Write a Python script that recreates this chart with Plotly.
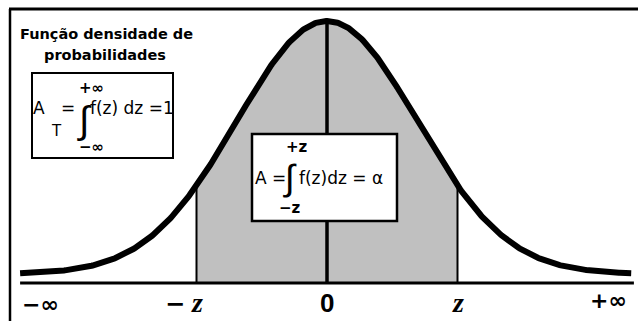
import numpy as np
import plotly.graph_objects as go

# ---- data -------------------------------------------------------------
# standard normal density f(z), drawn over the visible span of z
z_span = [-3.41, 3.38]
z_crit = 1.45                      # limits of the shaded area, -z .. +z
curve_lift = 0.0142                # the drawn curve sits slightly above the axis
axis_labels = ["−∞", "0", "+∞"]
axis_label_pos = [-3.18, 0.0, 3.13]

def density(z):
    z = np.asarray(z, dtype=float)
    return np.exp(-z ** 2 / 2) / np.sqrt(2 * np.pi)

z = np.linspace(z_span[0], z_span[1], 600)
fz = density(z) + curve_lift

z_in = np.linspace(-z_crit, z_crit, 300)
fz_in = density(z_in) + curve_lift

# ---- figure -----------------------------------------------------------
W, H = 638, 321
fig = go.Figure()

# shaded area between -z and +z
fig.add_trace(go.Scatter(
    x=np.concatenate([[-z_crit], z_in, [z_crit]]),
    y=np.concatenate([[0], fz_in, [0]]),
    fill="toself", fillcolor="#c0c0c0", mode="none", hoverinfo="skip"))

# verticals at -z, +z and the centre
for xv, wv in [(-z_crit, 2), (z_crit, 2)]:
    fig.add_trace(go.Scatter(x=[xv, xv], y=[0, density(xv) + curve_lift],
                             mode="lines", line=dict(color="black", width=wv),
                             hoverinfo="skip"))
fig.add_trace(go.Scatter(x=[0, 0], y=[0, density(0) + curve_lift],
                         mode="lines", line=dict(color="black", width=3.5),
                         hoverinfo="skip"))

# horizontal axis
fig.add_trace(go.Scatter(x=[-3.41, 3.41], y=[0, 0], mode="lines",
                         line=dict(color="black", width=3), hoverinfo="skip"))

# density curve
fig.add_trace(go.Scatter(x=z, y=fz, mode="lines",
                         line=dict(color="black", width=6), hoverinfo="skip"))

def px(x):
    return x / W

def py(y):
    return 1 - y / H

shapes = [
    # frame edges
    dict(type="line", xref="paper", yref="paper", x0=px(10), x1=px(10),
         y0=py(9), y1=py(H + 2), line=dict(color="black", width=2.5)),
    dict(type="line", xref="paper", yref="paper", x0=px(9), x1=px(W + 2),
         y0=py(9), y1=py(9), line=dict(color="black", width=3)),
    # formula boxes
    dict(type="rect", xref="paper", yref="paper", x0=px(32), x1=px(173),
         y0=py(73), y1=py(158), fillcolor="white",
         line=dict(color="black", width=2), layer="above"),
    dict(type="rect", xref="paper", yref="paper", x0=px(252), x1=px(397),
         y0=py(134), y1=py(221), fillcolor="white",
         line=dict(color="black", width=2.5), layer="above"),
]

SANS = "DejaVu Sans"
anns = []

def txt(s, x, y, size, family=SANS, weight="normal", style="normal",
        xanchor="center", xref="paper"):
    anns.append(dict(text=s, x=x if xref == "x" else px(x), y=py(y),
                     xref=xref, yref="paper", showarrow=False,
                     xanchor=xanchor, yanchor="middle",
                     font=dict(family=family, size=size, color="black",
                               weight=weight, style=style)))

# title
txt("Função densidade de", 106, 34, 14.5, weight="bold")
txt("probabilidades", 105, 55, 14.5, weight="bold")

# total-area formula
txt("A", 39, 108, 17)
txt("T", 56, 131, 15)
txt("=", 68, 108, 17)
txt("∫", 84, 120, 38, family="Liberation Sans")
txt("f(z) dz =1", 88, 108, 17, xanchor="left")
txt("+∞", 91, 88, 15, weight="bold")
txt("−∞", 91, 147, 15, weight="bold")

# shaded-area formula
txt("+z", 297, 147, 15, weight="bold")
txt("A =", 270, 178, 17)
txt("∫", 290, 178, 36, family="Liberation Sans")
txt("f(z)dz = α", 297, 178, 17, xanchor="left")
txt("−z", 290, 208, 15, weight="bold")

# axis labels
txt(axis_labels[0], axis_label_pos[0], 304, 22, weight="bold", xref="x")
txt(axis_labels[1], axis_label_pos[1], 303, 26, family="Liberation Sans",
    weight="bold", xref="x")
txt(axis_labels[2], axis_label_pos[2], 300, 22, weight="bold", xref="x")
txt("−", -z_crit - 0.24, 304, 24, weight="bold", xref="x")
txt("z", -z_crit, 302, 28, family="Liberation Serif", weight="bold",
    style="italic", xref="x")
txt("z", z_crit, 302, 28, family="Liberation Serif", weight="bold",
    style="italic", xref="x")

# axis mapping: 90 px per unit of z, centre at x = 327 px, baseline at y = 283 px
K = 253 / density(0)
fig.update_layout(
    width=W, height=H, margin=dict(l=0, r=0, t=0, b=0),
    plot_bgcolor="white", paper_bgcolor="white", showlegend=False,
    xaxis=dict(range=[-327 / 90, (W - 327) / 90], visible=False, fixedrange=True),
    yaxis=dict(range=[-(H - 283) / K, 283 / K], visible=False, fixedrange=True),
    shapes=shapes, annotations=anns,
)

fig.write_html("out.html")
